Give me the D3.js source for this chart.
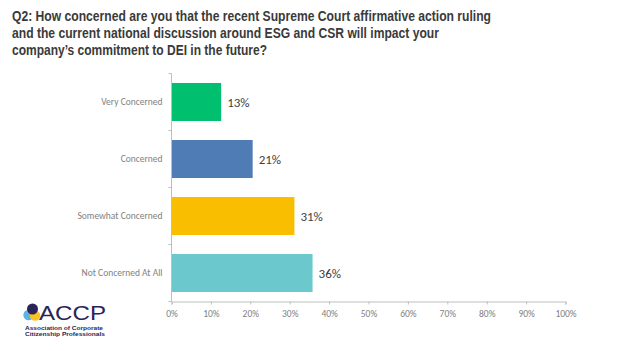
<!DOCTYPE html>
<html><head><meta charset="utf-8">
<script src="https://cdn.jsdelivr.net/npm/d3@7"></script>
<style>body{margin:0;background:#fff}svg{display:block}</style>
</head><body>
<svg id="c" width="640" height="351"></svg>
<script>
const titleLines = [
  "Q2: How concerned are you that the recent Supreme Court affirmative action ruling",
  "and the current national discussion around ESG and CSR will impact your",
  "company\u2019s commitment to DEI in the future?"
];
const categories = ["Very Concerned", "Concerned", "Somewhat Concerned", "Not Concerned At All"];
const values = [12.6, 20.6, 31.2, 35.8];
const valueLabels = ["13%", "21%", "31%", "36%"];
const colors = ["#00bf6f", "#507cb6", "#f9be00", "#6bc8cd"];
const xTicks = [0, 10, 20, 30, 40, 50, 60, 70, 80, 90, 100];

const svg = d3.select("#c");
const x = d3.scaleLinear().domain([0, 100]).range([171.5, 565.5]);
const y = d3.scaleBand().domain(categories).range([73.5, 301.5]).paddingInner(0.333).paddingOuter(0.1665);

// title
const titleWidths = [479, 427, 255];
svg.append("g").selectAll("text").data(titleLines).join("text")
  .attr("x", 12).attr("y", (d, i) => 21 + i * 17.2)
  .attr("font-family", "Liberation Sans, Arial, sans-serif")
  .attr("font-weight", "bold").attr("font-size", 14.5)
  .attr("textLength", (d, i) => titleWidths[i]).attr("lengthAdjust", "spacingAndGlyphs")
  .attr("fill", "#3a3a3a").text(d => d);

// bars
svg.append("g").selectAll("rect").data(values).join("rect")
  .attr("x", x(0)).attr("y", (d, i) => y(categories[i]))
  .attr("width", d => x(d) - x(0)).attr("height", y.bandwidth())
  .attr("fill", (d, i) => colors[i]);

// value labels
svg.append("g").selectAll("text").data(values).join("text")
  .attr("x", d => x(d) + 6).attr("y", (d, i) => y(categories[i]) + y.bandwidth() / 2)
  .attr("dy", "0.35em")
  .attr("font-family", "Carlito, Calibri, 'Open Sans', sans-serif").attr("font-size", 13)
  .attr("fill", "#404040").text((d, i) => valueLabels[i]);

const axisColor = "#bfbfbf";
// y axis
const yAxis = svg.append("g").attr("transform", `translate(${x(0)},0)`);
yAxis.append("line").attr("x1", 0).attr("x2", 0).attr("y1", 73.5).attr("y2", 301.5).attr("stroke", axisColor);
const tickYs = d3.range(categories.length + 1).map(i => 73.5 + i * (301.5 - 73.5) / categories.length);
yAxis.selectAll("line.t").data(tickYs).join("line").attr("class", "t")
  .attr("x1", -3).attr("x2", 0).attr("y1", d => d).attr("y2", d => d).attr("stroke", axisColor);
yAxis.selectAll("text").data(categories).join("text")
  .attr("x", -9).attr("y", d => y(d) + y.bandwidth() / 2).attr("dy", "0.35em")
  .attr("text-anchor", "end")
  .attr("font-family", "Carlito, Calibri, 'Open Sans', sans-serif").attr("font-size", 9.5)
  .attr("fill", "#7f7f7f").text(d => d);

// x axis
const xAxis = svg.append("g").attr("transform", "translate(0,301.5)")
  .call(d3.axisBottom(x).tickValues(xTicks).tickFormat(d => d + "%").tickSize(3).tickPadding(6));
xAxis.select(".domain").attr("stroke", axisColor);
xAxis.selectAll(".tick line").attr("stroke", axisColor);
xAxis.selectAll(".tick text").attr("fill", "#7f7f7f")
  .attr("font-family", "Carlito, Calibri, 'Open Sans', sans-serif").attr("font-size", 9.5);

// logo
const logo = svg.append("g");
logo.append("circle").attr("cx", 28.5).attr("cy", 315).attr("r", 5.2).attr("fill", "#5fb3e0");
logo.append("circle").attr("cx", 35).attr("cy", 315.5).attr("r", 5.2).attr("fill", "#f7c520");
logo.append("circle").attr("cx", 32.5).attr("cy", 309).attr("r", 5.5).attr("fill", "#2a2556");
logo.append("text").attr("x", 39).attr("y", 319.8)
  .attr("font-family", "Liberation Sans, Arial, sans-serif").attr("font-size", 20.5)
  .attr("textLength", 67).attr("lengthAdjust", "spacingAndGlyphs")
  .attr("fill", "#2a2556").text("ACCP");
logo.append("text").attr("x", 25).attr("y", 329.5)
  .attr("font-family", "Liberation Sans, Arial, sans-serif").attr("font-weight", "bold").attr("font-size", 6.2)
  .attr("textLength", 78).attr("lengthAdjust", "spacingAndGlyphs")
  .attr("fill", "#2a2556").text("Association of Corporate");
logo.append("text").attr("x", 25).attr("y", 336)
  .attr("font-family", "Liberation Sans, Arial, sans-serif").attr("font-weight", "bold").attr("font-size", 6.2)
  .attr("textLength", 80).attr("lengthAdjust", "spacingAndGlyphs")
  .attr("fill", "#2a2556").text("Citizenship Professionals");
</script>
</body></html>
